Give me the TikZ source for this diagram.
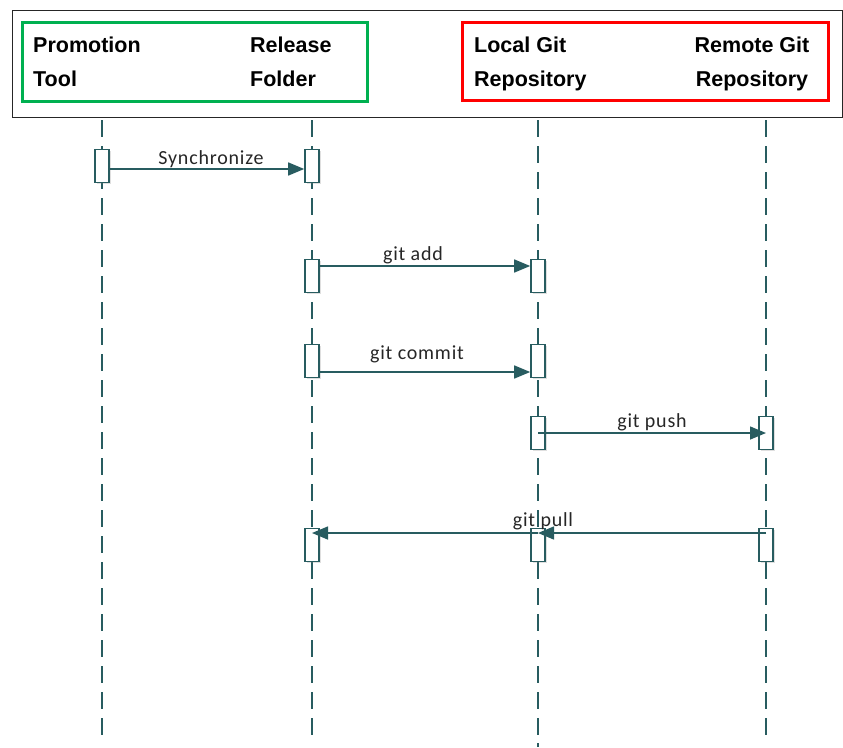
\documentclass[tikz,border=0pt]{standalone}
\usepackage{fontspec}
\setmainfont{Liberation Sans}
\newfontfamily\lblfont[LetterSpace=4]{Carlito}
\usetikzlibrary{arrows.meta, shadows}
\definecolor{seqT}{RGB}{40,92,96}
\definecolor{boxG}{RGB}{0,176,80}
\definecolor{boxR}{RGB}{255,0,0}
\tikzset{
  lifeline/.style={seqT, line width=1.5pt, dash pattern=on 17pt off 9pt},
  actbox/.style={draw=seqT, fill=white, line width=1.6pt, minimum width=14pt,
    minimum height=33pt, inner sep=0pt,
    drop shadow={shadow xshift=1.5pt, shadow yshift=-1.5pt, opacity=0.25}},
  msg/.style={seqT, line width=1.5pt, -{Triangle[length=16pt, width=13pt]}},
  msglbl/.style={font=\lblfont\fontsize{20}{22}\selectfont, text=black!85, inner sep=1pt},
  headlbl/.style={font=\bfseries\fontsize{21.5}{24}\selectfont, inner sep=0pt}
}
\begin{document}
\begin{tikzpicture}[x=1pt, y=-1pt]
\useasboundingbox (0,0) rectangle (843,747);
% ===== header =====
\draw[line width=1pt, black!85] (12,10) rectangle (842,117);
\draw[boxG, line width=3pt] (22,22) rectangle (367,101);
\draw[boxR, line width=3pt] (462,22) rectangle (828,100);
\node[headlbl, anchor=base west] (toolA) at (33,52) {Promotion};
\node[headlbl, anchor=base west] (toolB) at (33,86) {Tool};
\node[headlbl, anchor=base west] (relA) at (250,52) {Release};
\node[headlbl, anchor=base west] (relB) at (250,86) {Folder};
\node[headlbl, anchor=base west] (locA) at (474,52) {Local Git};
\node[headlbl, anchor=base west] (locB) at (474,86) {Repository};
\node[headlbl, anchor=base] (remA) at (752,52) {Remote Git};
\node[headlbl, anchor=base] (remB) at (752,86) {Repository};
% ===== lifelines =====
\foreach \lx/\nm in {102/tool, 312/rel, 538/loc, 766/rem}{
  \coordinate (\nm Top) at (\lx,120);
  \coordinate (\nm End) at (\lx,735);
  \draw[lifeline] (\nm Top) -- (\nm End);
}
\draw[seqT, line width=1.5pt] (538,743) -- (538,747);
% ===== activations =====
\node[actbox] (syncA) at (102,166) {};
\node[actbox] (syncB) at (312,166) {};
\node[actbox] (addA) at (312,276) {};
\node[actbox] (addB) at (538,276) {};
\node[actbox] (comA) at (312,361) {};
\node[actbox] (comB) at (538,361) {};
\node[actbox] (pushA) at (538,433) {};
\node[actbox] (pushB) at (766,433) {};
\node[actbox] (pullA) at (312,545) {};
\node[actbox] (pullB) at (538,545) {};
\node[actbox] (pullC) at (766,545) {};
% ===== messages =====
\draw[msg] ([yshift=-3pt]syncA.east) -- node[msglbl, above, xshift=4pt] (syncLbl) {Synchronize} ([yshift=-3pt]syncB.west);
\draw[msg] ([yshift=10pt]addA.east) -- node[msglbl, above, xshift=-12pt] (addLbl) {git add} ([yshift=10pt]addB.west);
\draw[msg] ([yshift=-11pt]comA.east) -- node[msglbl, above, xshift=-8pt, yshift=7pt] (comLbl) {git commit} ([yshift=-11pt]comB.west);
\draw[msg] (pushA.center) -- node[msglbl, above] (pushLbl) {git push} (pushB.center);
\draw[msg] ([yshift=12pt]pullC.center) -- ([yshift=12pt]pullB.center);
\draw[msg] ([yshift=12pt]pullB.center) -- ([yshift=12pt]pullA.center);
\node[msglbl, above, xshift=5pt, yshift=2pt] (pullLbl) at ([yshift=12pt]pullB.center) {git pull};
\end{tikzpicture}
\end{document}
